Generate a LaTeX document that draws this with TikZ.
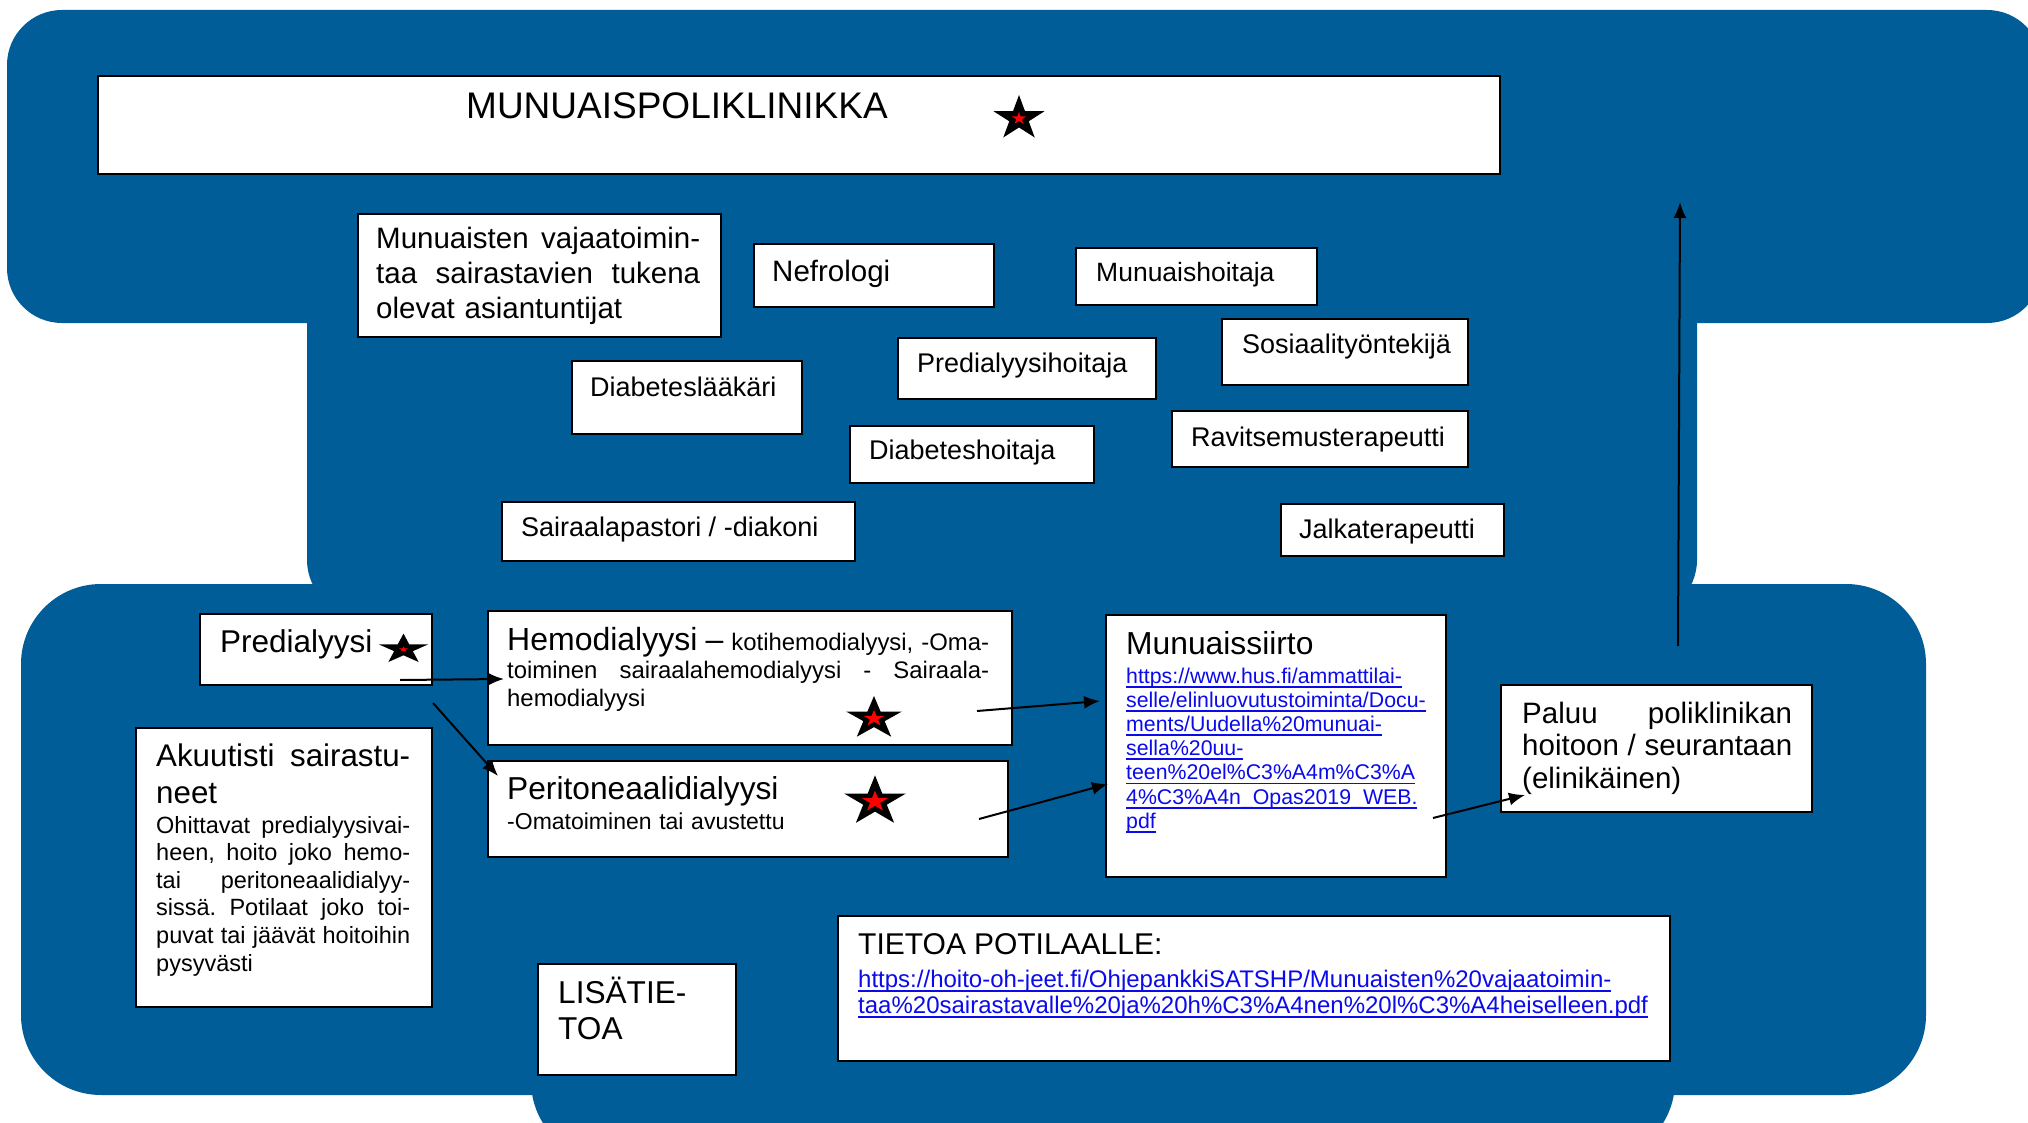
\documentclass[tikz,border=0pt]{standalone}
\usepackage{fontspec}
\setmainfont{Liberation Sans}
\usepackage{tikz}
\usetikzlibrary{arrows.meta,shapes.geometric}
\definecolor{bgblue}{RGB}{0,93,152}
\definecolor{linkblue}{RGB}{10,10,235}
\newlength{\linkwd}
\newcommand{\weblink}[1]{\settowidth{\linkwd}{#1}\textcolor{linkblue}{\rlap{\rule[-4.5pt]{\linkwd}{1.8pt}}#1}}

\begin{document}
\begin{tikzpicture}[x=1pt,y=-1pt,
    box/.style={draw=black, line width=2pt, fill=white, anchor=north west, inner sep=0pt},
    txt/.style={anchor=base west, inner sep=0pt, align=left},
    arr/.style={line width=2pt, -{Latex[length=16pt,width=13pt]}},
    starout/.style={star, star points=5, star point ratio=2.618, fill=black, inner sep=0pt, transform shape},
    starin/.style={star, star points=5, star point ratio=2.618, fill=red, inner sep=0pt, transform shape}]
                \useasboundingbox (0,0) rectangle (2028,1123);
                
                % Blue background
                \fill[bgblue, rounded corners=55pt] (7,10) rectangle (2042,323);
                \fill[bgblue, rounded corners=55pt] (307,250) rectangle (1697,615);
                \fill[bgblue, rounded corners=80pt] (21,584) rectangle (1926,1095);
                \fill[bgblue, rounded corners=80pt] (531,900) rectangle (1675,1161);
                
                % Title box
                \node[box, minimum width=1402pt, minimum height=98pt] (title) at (97,75) {};
                \node[txt, font=\fontsize{37}{44}\selectfont] (title-t) at (466,119) {MUNUAISPOLIKLINIKKA};
                
                % Experts
                \node[box, minimum width=363pt, minimum height=123pt] (expert) at (357,213) {};
                \node[box, minimum width=240pt, minimum height=63pt] (nefro) at (753,243) {};
                \node[box, minimum width=241pt, minimum height=57pt] (mhoit) at (1075,247) {};
                \node[box, minimum width=258pt, minimum height=61pt] (phoit) at (897,337) {};
                \node[box, minimum width=246pt, minimum height=66pt] (sosi) at (1221,318) {};
                \node[box, minimum width=230pt, minimum height=73pt] (dlaak) at (571,360) {};
                \node[box, minimum width=244pt, minimum height=57pt] (dhoit) at (849,425) {};
                \node[box, minimum width=296pt, minimum height=56pt] (ravit) at (1171,410) {};
                \node[box, minimum width=353pt, minimum height=59pt] (pastori) at (501,501) {};
                \node[box, minimum width=223pt, minimum height=52pt] (jalka) at (1280,503) {};
                
                % Labels for experts
                \node[txt, text width=400pt, font=\fontsize{29.5}{34.7}\selectfont] (expert-t) at (376,249)
                    {\makebox[324pt][s]{Munuaisten\hfill vajaatoimin-}\\ \makebox[324pt][s]{taa\hfill sairastavien\hfill tukena}\\ olevat asiantuntijat};
                \node[txt, font=\fontsize{29.5}{34}\selectfont] (nefro-t) at (772,281) {Nefrologi};
                \node[txt, font=\fontsize{26.5}{30}\selectfont] (mhoit-t) at (1096,281) {Munuaishoitaja};
                \node[txt, font=\fontsize{27}{32}\selectfont] (phoit-t) at (917,372) {Predialyysihoitaja};
                \node[txt, font=\fontsize{27}{32}\selectfont] (sosi-t) at (1242,353) {Sosiaalityöntekijä};
                \node[txt, font=\fontsize{27}{32}\selectfont] (dlaak-t) at (590,396) {Diabeteslääkäri};
                \node[txt, font=\fontsize{27}{32}\selectfont] (dhoit-t) at (869,459) {Diabeteshoitaja};
                \node[txt, font=\fontsize{27}{32}\selectfont] (ravit-t) at (1191,446) {Ravitsemusterapeutti};
                \node[txt, font=\fontsize{27}{32}\selectfont] (pastori-t) at (521,536) {Sairaalapastori / -diakoni};
                \node[txt, font=\fontsize{27}{32}\selectfont] (jalka-t) at (1299,538) {Jalkaterapeutti};
                
                % Treatment boxes
                \node[box, minimum width=232pt, minimum height=71pt] (predia) at (199,613) {};
                \node[box, minimum width=524pt, minimum height=134pt] (hemo) at (487,610) {};
                \node[box, minimum width=520pt, minimum height=96pt] (perit) at (487,760) {};
                \node[box, minimum width=296pt, minimum height=279pt] (akuut) at (135,727) {};
                \node[box, minimum width=198pt, minimum height=111pt] (lisa) at (537,963) {};
                \node[box, minimum width=832pt, minimum height=145pt] (tietoa) at (837,915) {};
                \node[box, minimum width=340pt, minimum height=262pt] (siirto) at (1105,614) {};
                \node[box, minimum width=311pt, minimum height=127pt] (paluu) at (1500,684) {};
                
                % Labels for treatment
                \node[txt, font=\fontsize{31.5}{36}\selectfont] (predia-t) at (220,652) {Predialyysi};
                \node[txt, text width=560pt, font=\fontsize{23.9}{28}\selectfont] (hemo-t) at (507,650)
                    {\makebox[482pt][s]{{\fontsize{32}{36}\selectfont Hemodialyysi\hfill –}\hfill kotihemodialyysi,\hfill -Oma-}\\
                     \makebox[482pt][s]{toiminen\hfill sairaalahemodialyysi\hfill -\hfill Sairaala-}\\ hemodialyysi};
                \node[txt, text width=480pt, font=\fontsize{23}{30}\selectfont] (perit-t) at (507,799)
                    {{\fontsize{31.7}{36}\selectfont Peritoneaalidialyysi}\\ -Omatoiminen tai avustettu};
                \node[txt, text width=320pt, font=\fontsize{23.5}{27.6}\selectfont] (akuut-t) at (156,766.5)
                    {{\fontsize{31.3}{37}\selectfont \makebox[254pt][s]{Akuutisti\hfill sairastu-}\\ neet\par}
                     \vspace{2pt}
                     \makebox[254pt][s]{Ohittavat\hfill predialyysivai-}\\
                     \makebox[254pt][s]{heen,\hfill hoito\hfill joko\hfill hemo-}\\
                     \makebox[254pt][s]{tai\hfill peritoneaalidialyy-}\\
                     \makebox[254pt][s]{sissä.\hfill Potilaat\hfill joko\hfill toi-}\\
                     \makebox[254pt][s]{puvat\hfill tai\hfill jäävät\hfill hoitoihin}\\
                     pysyvästi};
                \node[txt, text width=170pt, font=\fontsize{31.6}{35.5}\selectfont] (lisa-t) at (558,1003.5) {LISÄTIE-\\TOA};
                \node[txt, text width=800pt, font=\fontsize{24}{26}\selectfont] (tietoa-t) at (858,954)
                    {{\fontsize{30}{36}\selectfont TIETOA POTILAALLE:}\\[7pt]
                     \weblink{https://hoito-oh-jeet.fi/OhjepankkiSATSHP/Munuaisten\%20vajaatoimin-}\\
                     \weblink{taa\%20sairastavalle\%20ja\%20h\%C3\%A4nen\%20l\%C3\%A4heiselleen.pdf}};
                \node[txt, text width=310pt, font=\fontsize{21.3}{24.2}\selectfont] (siirto-t) at (1126,654)
                    {{\fontsize{31.8}{36}\selectfont Munuaissiirto}\\[4.8pt]
                     \weblink{https://www.hus.fi/ammattilai-}\\
                     \weblink{selle/elinluovutustoiminta/Docu-}\\
                     \weblink{ments/Uudella\%20munuai-}\\
                     \weblink{sella\%20uu-}\\
                     \weblink{teen\%20el\%C3\%A4m\%C3\%A}\\
                     \weblink{4\%C3\%A4n\_Opas2019\_WEB.}\\
                     \weblink{pdf}};
                \node[txt, text width=360pt, font=\fontsize{29.5}{32.7}\selectfont] (paluu-t) at (1522,723)
                    {\makebox[270pt][s]{Paluu\hfill poliklinikan}\\ \makebox[270pt][s]{hoitoon\hfill /\hfill seurantaan}\\ (elinikäinen)};
                
                % Stars
                \begin{scope}[shift={(1019,118.5)}, xscale=1.14]
                    \node[starout, minimum size=47pt] (star-title) at (0,0) {};
                    \node[starin, minimum size=13pt] (star-title-in) at (0,0) {};
                \end{scope}
                \begin{scope}[shift={(403.5,649.3)}, xscale=1.64]
                    \node[starout, minimum size=31.4pt] (star-predia) at (0,0) {};
                    \node[starin, minimum size=6pt] (star-predia-in) at (0,0) {};
                \end{scope}
                \begin{scope}[shift={(874,718.5)}, xscale=1.3]
                    \node[starout, minimum size=45pt] (star-hemo) at (0,0) {};
                    \node[starin, minimum size=17pt] (star-hemo-in) at (0,0) {};
                \end{scope}
                \begin{scope}[shift={(875,801.6)}, xscale=1.24]
                    \node[starout, minimum size=52.4pt] (star-perit) at (0,0) {};
                    \node[starin, minimum size=22pt] (star-perit-in) at (0,0) {};
                \end{scope}
                
                % Arrow ends
                \coordinate (pre-a) at ([shift={(-33,-6)}]predia.south east);
                \coordinate (hemo-in) at ([shift={(17,1)}]hemo.west);
                \coordinate (pre-b) at ([shift={(0,17)}]predia.south east);
                \coordinate (perit-in) at ([shift={(11,16)}]perit.north west);
                \coordinate (hemo-out) at ([shift={(-36,33)}]hemo.east);
                \coordinate (siirto-a) at ([shift={(-5,87)}]siirto.north west);
                \coordinate (perit-out) at ([shift={(-30,10)}]perit.east);
                \coordinate (siirto-b) at ([shift={(3,170)}]siirto.north west);
                \coordinate (siirto-out) at ([shift={(-14,72)}]siirto.east);
                \coordinate (paluu-in) at ([shift={(25,-18)}]paluu.south west);
                \coordinate (paluu-out) at ([shift={(178,-38)}]paluu.north west);
                \coordinate (back) at ([shift={(179,27)}]title.south east);
                
                % Arrows
                \draw[arr] (pre-a) -- (hemo-in);
                \draw[arr] (pre-b) -- (perit-in);
                \draw[arr] (hemo-out) -- (siirto-a);
                \draw[arr] (perit-out) -- (siirto-b);
                \draw[arr] (siirto-out) -- (paluu-in);
                \draw[arr] (paluu-out) -- (back);
                
            \end{tikzpicture}
\end{document}
